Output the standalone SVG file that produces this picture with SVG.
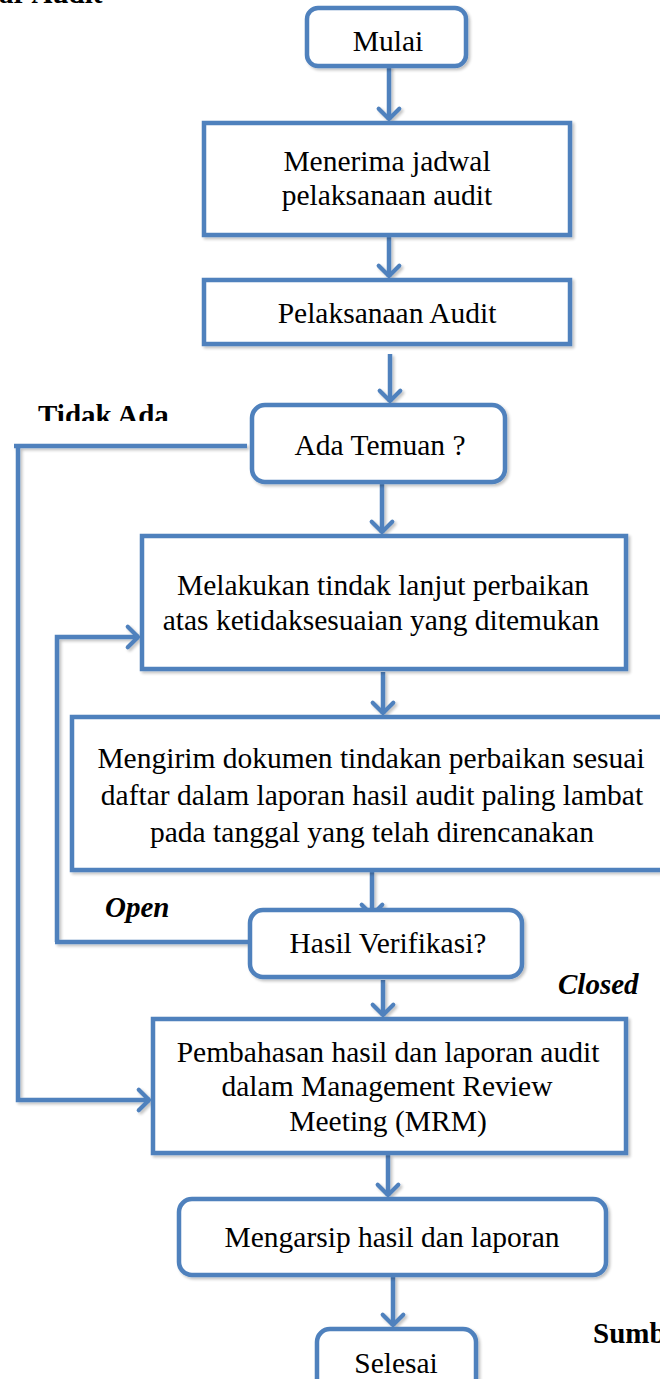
<svg xmlns="http://www.w3.org/2000/svg" width="660" height="1379" viewBox="0 0 660 1379">
<defs>
<style>
.box{fill:#fff;stroke:#4f81bd;stroke-width:4.5;filter:url(#sh)}
.ln{fill:none;stroke:#4f81bd;stroke-width:4.5;filter:url(#sh)}
.t{font-family:"Liberation Serif","Times New Roman",serif;font-size:29.5px;fill:#000;text-anchor:middle}
.lb{font-family:"Liberation Serif","Times New Roman",serif;font-size:29px;font-weight:bold;fill:#000}
.it{font-style:italic}
</style>
<filter id="sh" filterUnits="userSpaceOnUse" x="-20" y="-20" width="700" height="1420">
<feGaussianBlur in="SourceAlpha" stdDeviation="1.5"/>
<feOffset dx="1.5" dy="2" result="b"/>
<feComponentTransfer><feFuncA type="linear" slope="0.25"/></feComponentTransfer>
<feMerge><feMergeNode/><feMergeNode in="SourceGraphic"/></feMerge>
</filter>
<clipPath id="cTidak"><rect x="0" y="380" width="260" height="41"/></clipPath>
<marker id="ah" markerUnits="userSpaceOnUse" markerWidth="30" markerHeight="30" viewBox="-16 -16 32 32" refX="0" refY="0" orient="auto">
<path d="M-12,-11 L-1,0 L-12,11" fill="none" stroke="#4f81bd" stroke-width="4.5" stroke-linecap="round" stroke-linejoin="round"/>
</marker>
</defs>
<rect width="660" height="1379" fill="#fff"/>

<text class="lb" x="-1" y="3">ar Audit</text>
<text class="lb" x="38" y="425" clip-path="url(#cTidak)">Tidak Ada</text>
<text class="lb it" x="105" y="917">Open</text>
<text class="lb it" x="558" y="994">Closed</text>
<text class="lb" x="593" y="1343">Sumb</text>

<g id="connectors">
<path class="ln" d="M389,66 V120" marker-end="url(#ah)"/>
<path class="ln" d="M389,237 V277" marker-end="url(#ah)"/>
<path class="ln" d="M390,354 V402" marker-end="url(#ah)"/>
<path class="ln" d="M382,484 V533" marker-end="url(#ah)"/>
<path class="ln" d="M383,672 V714" marker-end="url(#ah)"/>
<path class="ln" d="M372,872 V916" marker-end="url(#ah)"/>
<path class="ln" d="M383,980 V1016" marker-end="url(#ah)"/>
<path class="ln" d="M388,1155 V1196" marker-end="url(#ah)"/>
<path class="ln" d="M393,1277 V1326" marker-end="url(#ah)"/>
<path class="ln" d="M247,446 H14 M18,446 V1100 H150" marker-end="url(#ah)"/>
<path class="ln" d="M248,942 H55 M57,942 V637 H139" marker-end="url(#ah)"/>
</g>

<g id="n-mulai">
<rect class="box" x="307" y="8" width="159" height="58" rx="11"/>
<text class="t" x="388" y="51">Mulai</text>
</g>
<g id="n-menerima">
<rect class="box" x="204" y="123" width="366" height="112"/>
<text class="t" x="387" y="171">Menerima jadwal</text>
<text class="t" x="387" y="205">pelaksanaan audit</text>
</g>
<g id="n-pelaksanaan">
<rect class="box" x="204" y="280" width="366" height="64"/>
<text class="t" x="387" y="323">Pelaksanaan Audit</text>
</g>
<g id="n-temuan">
<rect class="box" x="252" y="405" width="253" height="77" rx="13"/>
<text class="t" x="380" y="455">Ada Temuan ?</text>
</g>
<g id="n-melakukan">
<rect class="box" x="142" y="536" width="484" height="133"/>
<text class="t" x="383" y="595">Melakukan tindak lanjut perbaikan</text>
<text class="t" x="381" y="630">atas ketidaksesuaian yang ditemukan</text>
</g>
<g id="n-mengirim">
<rect class="box" x="72" y="717" width="592" height="153"/>
<text class="t" x="371" y="768">Mengirim dokumen tindakan perbaikan sesuai</text>
<text class="t" x="372" y="805">daftar dalam laporan hasil audit paling lambat</text>
<text class="t" x="372" y="842">pada tanggal yang telah direncanakan</text>
</g>
<g id="n-verifikasi">
<rect class="box" x="250" y="910" width="272" height="67" rx="13"/>
<text class="t" x="388" y="953">Hasil Verifikasi?</text>
</g>
<g id="n-pembahasan">
<rect class="box" x="153" y="1019" width="473" height="134"/>
<text class="t" x="388" y="1062">Pembahasan hasil dan laporan audit</text>
<text class="t" x="387" y="1096">dalam Management Review</text>
<text class="t" x="388" y="1131">Meeting (MRM)</text>
</g>
<g id="n-mengarsip">
<rect class="box" x="179" y="1199" width="427" height="76" rx="13"/>
<text class="t" x="392" y="1247">Mengarsip hasil dan laporan</text>
</g>
<g id="n-selesai">
<rect class="box" x="317" y="1329" width="159" height="70" rx="13"/>
<text class="t" x="396" y="1373">Selesai</text>
</g>
</svg>
